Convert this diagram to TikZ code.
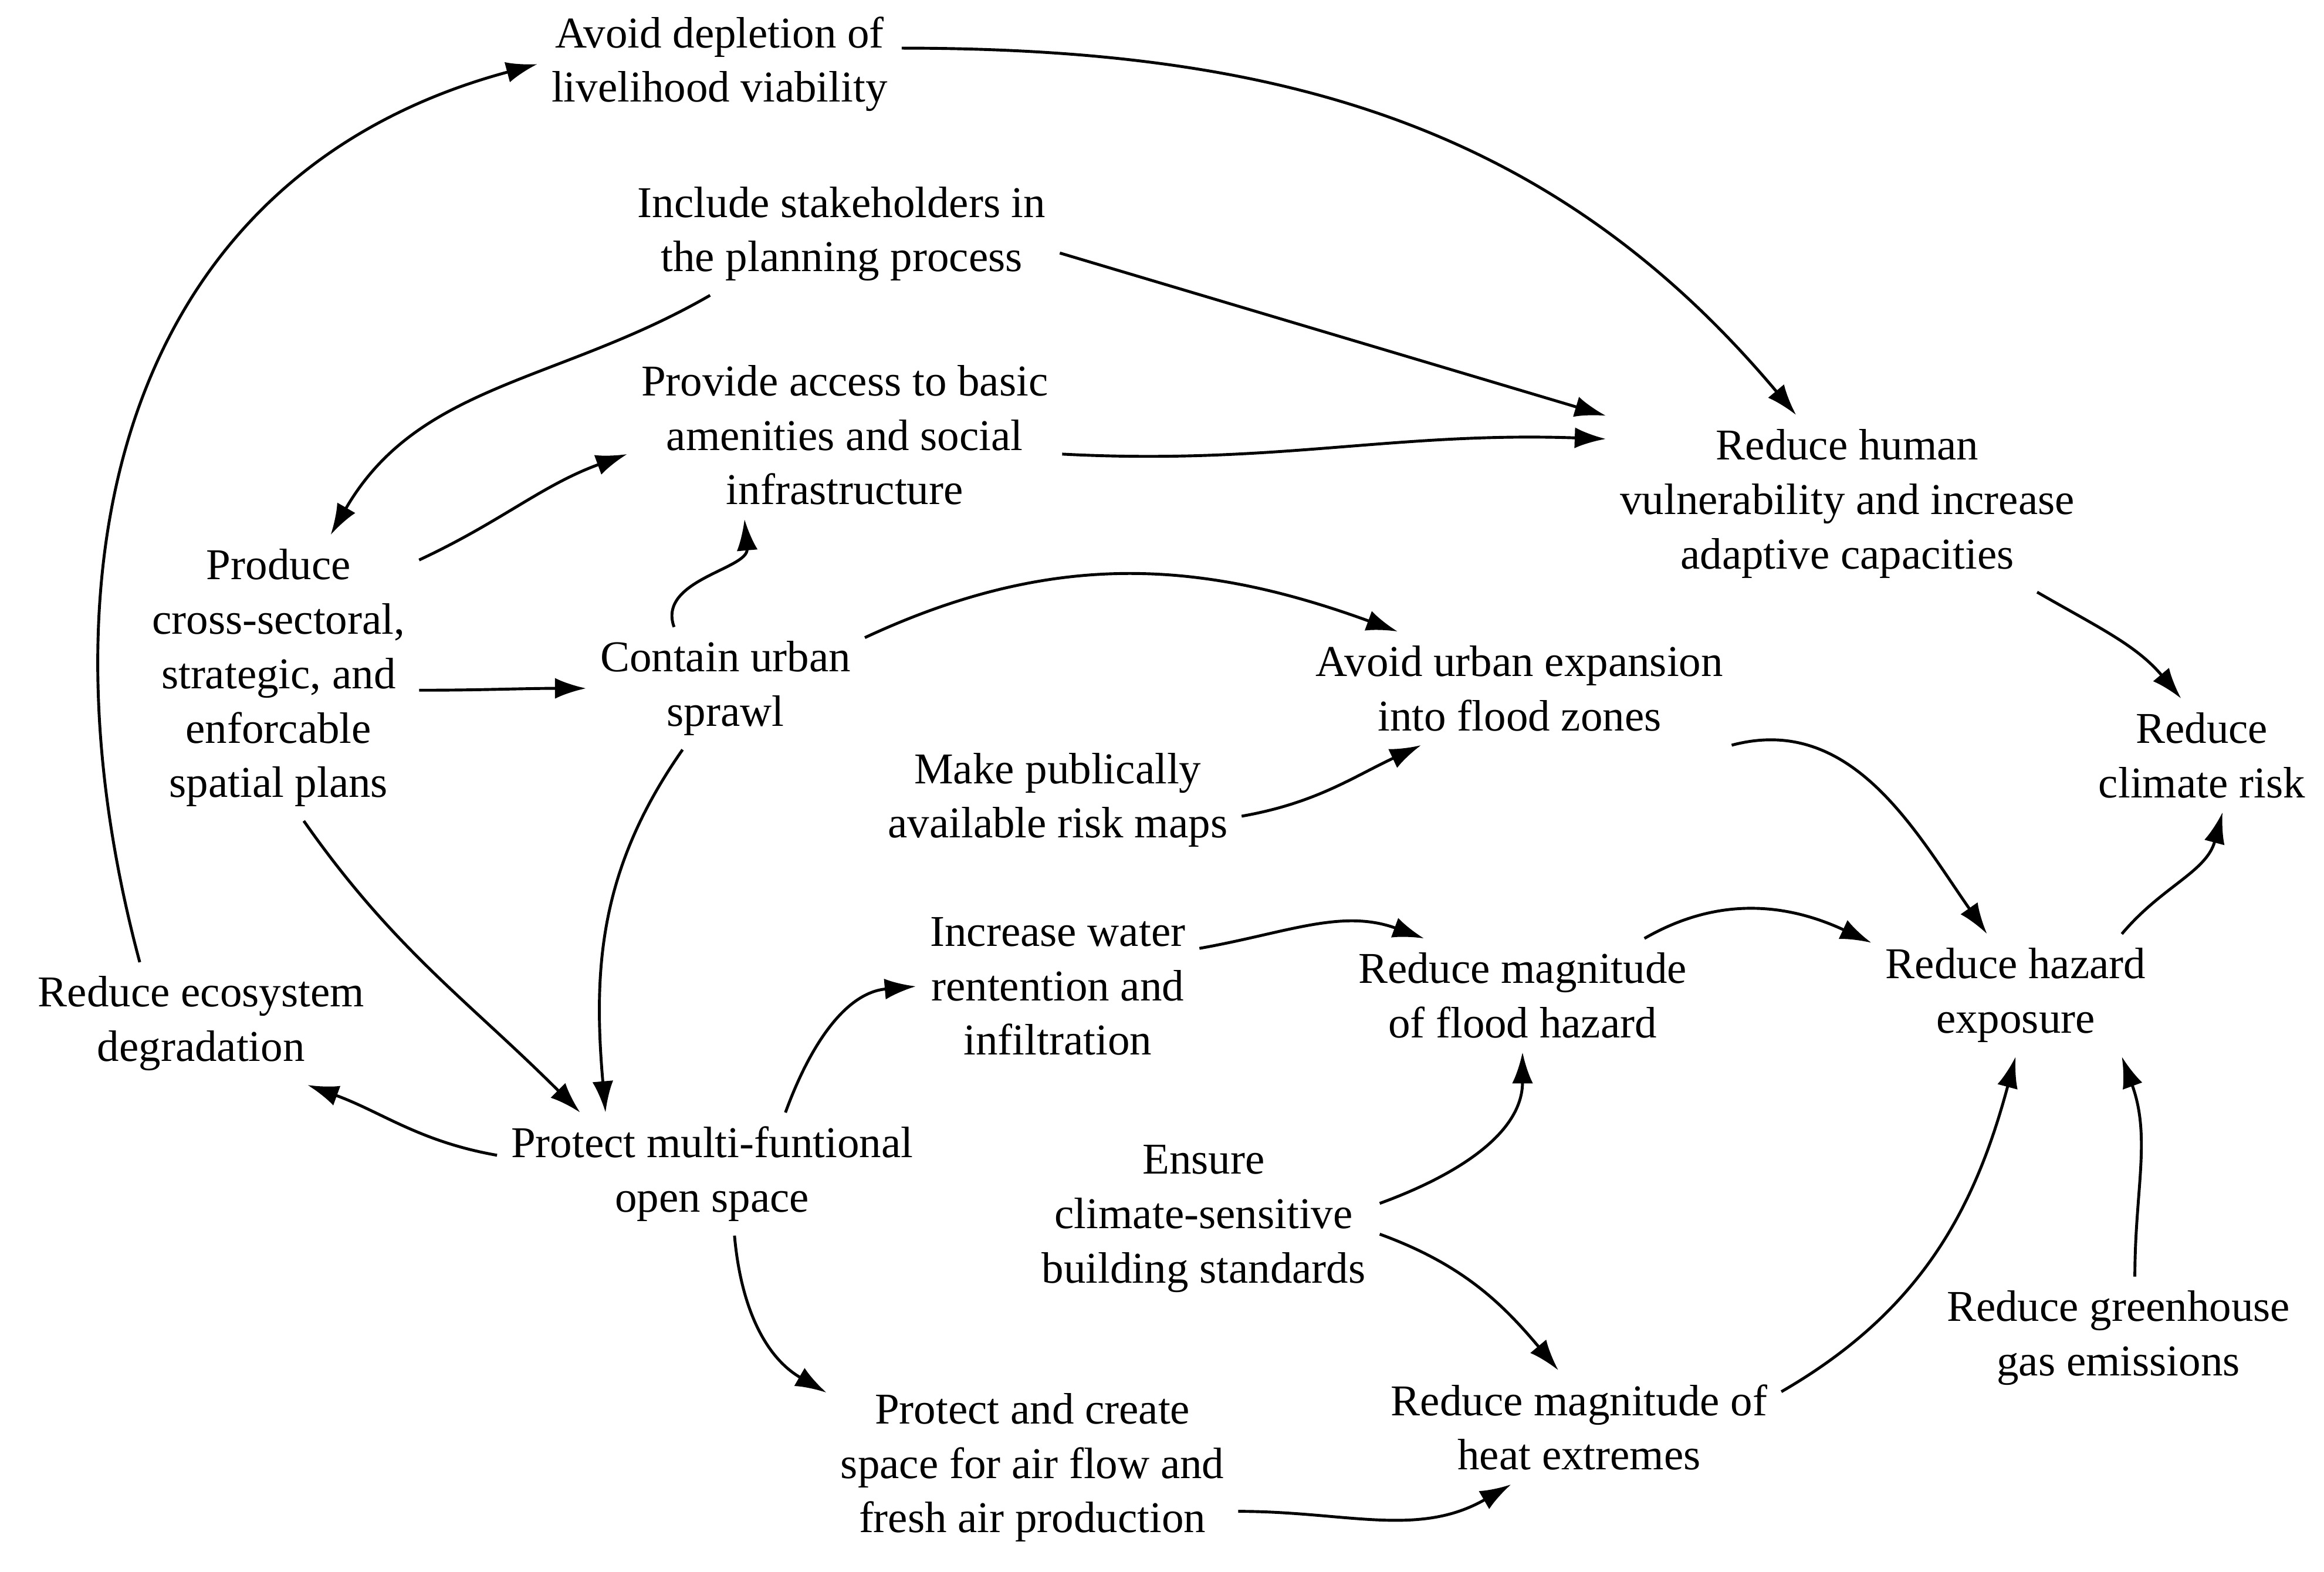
\documentclass[tikz,border=0pt]{standalone}
\usepackage{fontspec}
\setmainfont{Liberation Serif}
\usetikzlibrary{arrows.meta}
\begin{document}
\begin{tikzpicture}[x=0.1mm,y=-0.1mm,
  t/.style={align=center,inner sep=2.5pt,font=\fontsize{8.4}{10.4}\selectfont},
  a/.style={line width=0.55pt,-{Latex[length=2.1mm,width=1.4mm]}}]
\useasboundingbox (0,0) rectangle (1560,1055);
\node[t] (A) at (483,43) {Avoid depletion of\\livelihood viability};
\node[t] (B) at (565,157) {Include stakeholders in\\the planning process};
\node[t] (C) at (567,292) {Provide access to basic\\amenities and social\\infrastructure};
\node[t] (D) at (1240,338) {Reduce human\\vulnerability and increase\\adaptive capacities};
\node[t] (E) at (187,455) {Produce\\cross-sectoral,\\strategic, and\\enforcable\\spatial plans};
\node[t] (F) at (487,462) {Contain urban\\sprawl};
\node[t] (G) at (1020,462) {Avoid urban expansion\\into flood zones};
\node[t] (H) at (1478,507) {Reduce\\climate risk};
\node[t] (I) at (710,537) {Make publically\\available risk maps};
\node[t] (J) at (710,662) {Increase water\\rentention and\\infiltration};
\node[t] (K) at (1022,668) {Reduce magnitude\\of flood hazard};
\node[t] (L) at (1353,668) {Reduce hazard\\exposure};
\node[t] (M) at (135,687) {Reduce ecosystem\\degradation};
\node[t] (N) at (478,788) {Protect multi-funtional\\open space};
\node[t] (O) at (808,818) {Ensure\\climate-sensitive\\building standards};
\node[t] (P) at (1422,898) {Reduce greenhouse\\gas emissions};
\node[t] (Q) at (1060,958) {Reduce magnitude of\\heat extremes};
\node[t] (R) at (693,985) {Protect and create\\space for air flow and\\fresh air production};

\draw[a] (M.135) to[out=105,in=195,looseness=1.1] (A.180);
\draw[a] (A.5) to[out=0,in=130] (D.120);
\draw[a] (B.-5) -- (D.160);
\draw[a] (B.205) to[out=210,in=60] (E.70);
\draw[a] (E.40) to[out=25,in=200] (C.185);
\draw[a] (C.-5) to[out=-3,in=178] (D.165);
\draw[a] (F.130) to[out=110,in=-85] (C.220);
\draw[a] (E.-5) to[out=0,in=180] (F.180);
\draw[a] (F.20) to[out=25,in=160] (G.155);
\draw[a] (D.-25) to[out=-30,in=130] (H.110);
\draw[a] (I.-5) to[out=10,in=205] (G.210);
\draw[a] (G.-15) to[out=15,in=125] (L.115);
\draw[a] (L.30) to[out=50,in=-105] (H.-70);
\draw[a] (F.235) to[out=235,in=95] (N.150);
\draw[a] (E.-80) to[out=-55,in=135] (N.155);
\draw[a] (N.40) to[out=70,in=185] (J.180);
\draw[a] (J.15) to[out=10,in=160] (K.150);
\draw[a] (K.25) to[out=30,in=155] (L.160);
\draw[a] (N.175) to[out=170,in=-20] (M.-30);
\draw[a] (N.-70) to[out=-85,in=150] (R.160);
\draw[a] (O.5) to[out=20,in=-90] (K.-90);
\draw[a] (O.-5) to[out=-20,in=130] (Q.110);
\draw[a] (Q.10) to[out=30,in=-105] (L.-90);
\draw[a] (P.75) to[out=90,in=-70] (L.-30);
\draw[a] (R.-12) to[out=0,in=210] (Q.-140);
\end{tikzpicture}
\end{document}
